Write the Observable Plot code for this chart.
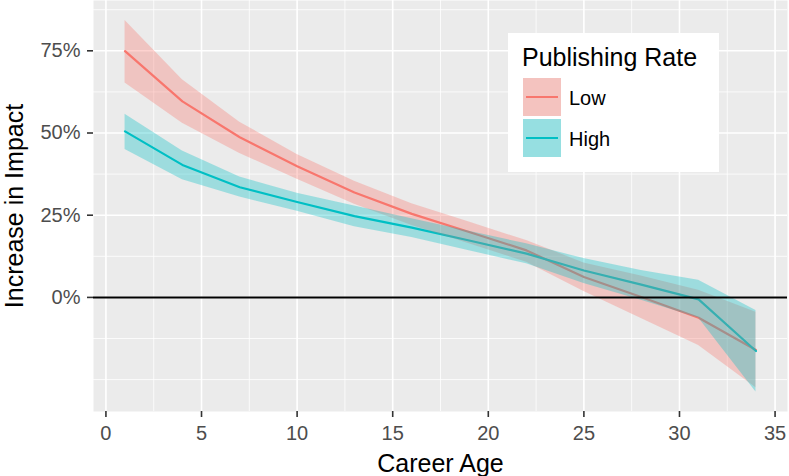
<!DOCTYPE html>
<html>
<head>
<meta charset="utf-8">
<script src="https://cdn.jsdelivr.net/npm/d3@7"></script>
<script src="https://cdn.jsdelivr.net/npm/@observablehq/plot@0.6"></script>
<style>
  html, body { margin: 0; padding: 0; background: #fff; }
  #wrap { position: relative; width: 789px; height: 476px; font-family: "Liberation Sans", Arial, Helvetica, sans-serif; }
  #legend { position: absolute; left: 508px; top: 33px; width: 211px; height: 139px; background: #fff; }
  #legend .title { position: absolute; left: 14px; top: 12px; font-size: 25px; line-height: 25px; color: #000; white-space: nowrap; }
  #legend .key { position: absolute; left: 15px; width: 38px; height: 38px; background: #F2F2F2; }
  #legend .key .fill { position: absolute; inset: 0; }
  #legend .key .ln { position: absolute; left: 3px; right: 3px; top: 18px; height: 2px; }
  #legend .lab { position: absolute; left: 61px; font-size: 20px; line-height: 20px; color: #000; }
</style>
</head>
<body>
<div id="wrap"></div>
<script>
// ---- data ----
const ages = [1, 4, 7, 10, 13, 16, 19, 22, 25, 28, 31, 34];
const lowFit  = [74.9, 59.6, 48.7, 39.9, 31.9, 25.4, 19.9, 14.3, 6.2, 0.1, -6.2, -16.0];
const lowLo   = [65.2, 53.0, 43.8, 35.9, 28.3, 21.9, 16.3, 10.7, 1.8, -6.4, -14.6, -27.5];
const lowHi   = [84.2, 66.2, 53.3, 43.5, 35.3, 28.5, 22.9, 17.3, 10.5, 6.5, 2.2, -4.5];
const highFit = [50.5, 40.3, 33.5, 29.0, 24.7, 21.2, 17.3, 13.3, 8.2, 3.9, -0.6, -16.3];
const highLo  = [45.0, 35.8, 30.5, 26.2, 21.5, 18.2, 14.2, 10.2, 4.2, -0.9, -6.3, -28.8];
const highHi  = [55.7, 44.5, 36.6, 31.7, 27.8, 23.9, 20.1, 16.3, 11.8, 8.2, 5.2, -4.0];

const seriesNames = ["Low", "High"];
const seriesColors = ["#F8766D", "#00BFC4"];
const xTicks = [0, 5, 10, 15, 20, 25, 30, 35];
const xMinor = [2.5, 7.5, 12.5, 17.5, 22.5, 27.5, 32.5];
const yTicks = [0, 25, 50, 75];
const yMinor = [-25, -12.5, 12.5, 37.5, 62.5, 87.5];
const legendTitle = "Publishing Rate";
const xTitle = "Career Age";
const yTitle = "Increase in Impact";

const low = ages.map((a, i) => ({age: a, fit: lowFit[i], lo: lowLo[i], hi: lowHi[i]}));
const high = ages.map((a, i) => ({age: a, fit: highFit[i], lo: highLo[i], hi: highHi[i]}));
const ribbonOpacity = 0.33;

const chart = Plot.plot({
  width: 789,
  height: 476,
  marginLeft: 93,
  marginRight: 2,
  marginTop: 0,
  marginBottom: 65,
  style: {fontFamily: '"Liberation Sans", Arial, Helvetica, sans-serif', fontSize: "20px", background: "#fff"},
  x: {domain: [-0.65, 35.65]},
  y: {domain: [-34.7, 90.3]},
  marks: [
    Plot.frame({fill: "#EBEBEB", stroke: null}),
    Plot.ruleX(xMinor, {stroke: "#fff", strokeWidth: 0.8}),
    Plot.ruleY(yMinor, {stroke: "#fff", strokeWidth: 0.8}),
    Plot.ruleX(xTicks, {stroke: "#fff", strokeWidth: 1.6}),
    Plot.ruleY(yTicks, {stroke: "#fff", strokeWidth: 1.6}),
    Plot.line(low, {x: "age", y: "fit", stroke: seriesColors[0], strokeWidth: 2.2}),
    Plot.line(high, {x: "age", y: "fit", stroke: seriesColors[1], strokeWidth: 2.2}),
    Plot.areaY(low, {x: "age", y1: "lo", y2: "hi", fill: seriesColors[0], fillOpacity: ribbonOpacity}),
    Plot.areaY(high, {x: "age", y1: "lo", y2: "hi", fill: seriesColors[1], fillOpacity: ribbonOpacity}),
    Plot.ruleY([0], {stroke: "#000", strokeWidth: 2}),
    Plot.axisX({ticks: xTicks, tickSize: 6, tickPadding: 8, stroke: "#333", fill: "#4D4D4D", strokeWidth: 1.6, fontSize: 20, label: null}),
    Plot.axisY({ticks: yTicks, tickSize: 6, tickPadding: 7, tickFormat: d => d + "%", stroke: "#333", fill: "#4D4D4D", strokeWidth: 1.6, fontSize: 20, label: null}),
    Plot.text([xTitle], {frameAnchor: "bottom", dy: 60, lineAnchor: "bottom", textAnchor: "middle", text: d => d, fontSize: 25, fill: "#000"}),
    Plot.text([yTitle], {frameAnchor: "left", dx: -71, rotate: -90, lineAnchor: "bottom", textAnchor: "middle", text: d => d, fontSize: 25, fill: "#000"})
  ]
});

const wrap = document.getElementById("wrap");
wrap.appendChild(chart);

// legend (HTML overlay)
const legend = document.createElement("div");
legend.id = "legend";
const t = document.createElement("div");
t.className = "title";
t.textContent = legendTitle;
legend.appendChild(t);
seriesNames.forEach((name, i) => {
  const top = 45 + i * 41;
  const key = document.createElement("div");
  key.className = "key";
  key.style.top = top + "px";
  const f = document.createElement("div");
  f.className = "fill";
  f.style.background = seriesColors[i];
  f.style.opacity = ribbonOpacity + 0.05;
  key.appendChild(f);
  const ln = document.createElement("div");
  ln.className = "ln";
  ln.style.background = seriesColors[i];
  key.appendChild(ln);
  legend.appendChild(key);
  const lab = document.createElement("div");
  lab.className = "lab";
  lab.style.top = (top + 10) + "px";
  lab.textContent = name;
  legend.appendChild(lab);
});
wrap.appendChild(legend);
</script>
</body>
</html>
